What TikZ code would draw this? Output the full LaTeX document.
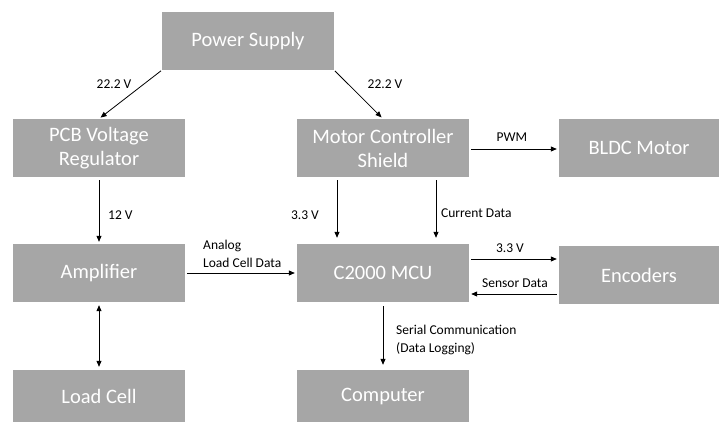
\documentclass[tikz,border=0pt]{standalone}
\usepackage{fontspec}
\setmainfont{Carlito}
\usetikzlibrary{arrows.meta,calc}
\definecolor{boxgray}{HTML}{A6A6A6}
\begin{document}
\begin{tikzpicture}[x=1pt,y=-1pt,
  box/.style={fill=boxgray,draw=none,text=white,minimum width=172pt,minimum height=58pt,inner sep=0pt,align=center,font=\fontsize{20.5}{24}\selectfont},
  lbl/.style={font=\fontsize{13.5}{18}\selectfont,inner sep=0pt,text=black},
  conn/.style={line width=0.8pt,-{Triangle[length=6pt,width=5pt]}},
  conn2/.style={line width=0.8pt,{Triangle[length=6pt,width=5pt]}-{Triangle[length=6pt,width=5pt]}}]
\useasboundingbox (0,0) rectangle (719,422);
\node[box] (ps) at (248,41) {Power Supply};
\node[box] (pcb) at (99,148) {PCB Voltage\\Regulator};
\node[box] (mcs) at (383,148) {Motor Controller\\Shield};
\node[box,minimum width=160pt] (bldc) at (639,148) {BLDC Motor};
\node[box] (amp) at (99,273) {Amplifier};
\node[box] (mcu) at (383,273) {C2000 MCU};
\node[box,minimum width=160pt] (enc) at (639,275) {Encoders};
\node[box,minimum height=52pt] (lc) at (99,396) {Load Cell};
\node[box,minimum height=52pt] (comp) at (383,396) {Computer};

\draw[conn,shorten <=1pt,shorten >=2pt] (ps.south west) -- (pcb.north);
\draw[conn,shorten <=1pt,shorten >=2pt] (ps.south east) -- (mcs.north);
\draw[conn,shorten <=2pt,shorten >=2pt] ([yshift=-1pt]mcs.east) -- ([yshift=-1pt]bldc.west);
\draw[conn,shorten <=3pt,shorten >=2pt] (pcb.south) -- (amp.north);
\draw[conn,shorten <=3pt,shorten >=6pt] ([xshift=-46pt]mcs.south) -- ([xshift=-46pt]mcu.north);
\draw[conn,shorten <=3pt,shorten >=6pt] ([xshift=53pt]mcs.south) -- ([xshift=53pt]mcu.north);
\draw[conn,shorten <=2pt,shorten >=2pt] (amp.east) -- (mcu.west);
\draw[conn,shorten <=2pt,shorten >=2pt] ([yshift=14pt]mcu.east) -- ([yshift=14pt]mcu.east -| enc.west);
\draw[conn,shorten <=2pt,shorten >=2pt] ([yshift=-21pt]mcu.east -| enc.west) -- ([yshift=-21pt]mcu.east);
\draw[conn2,shorten <=3pt,shorten >=3pt] (amp.south) -- (lc.north);
\draw[conn,shorten <=4pt,shorten >=5pt] (mcu.south) -- (comp.north);

\node[lbl] (l1) at (114,84) {22.2 V};
\node[lbl] (l2) at (385,84) {22.2 V};
\node[lbl] (l3) at (512,137) {PWM};
\node[lbl,anchor=west] (l4) at (108,215) {12 V};
\node[lbl] (l5) at (305,215) {3.3 V};
\node[lbl,anchor=west] (l6) at (441,213) {Current Data};
\node[lbl,anchor=west,align=left] (l7) at (203,254) {Analog\\Load Cell Data};
\node[lbl] (l8) at (510,248) {3.3 V};
\node[lbl] (l9) at (515,283) {Sensor Data};
\node[lbl,anchor=west,align=left] (l10) at (396,340) {Serial Communication\\(Data Logging)};
\end{tikzpicture}
\end{document}
